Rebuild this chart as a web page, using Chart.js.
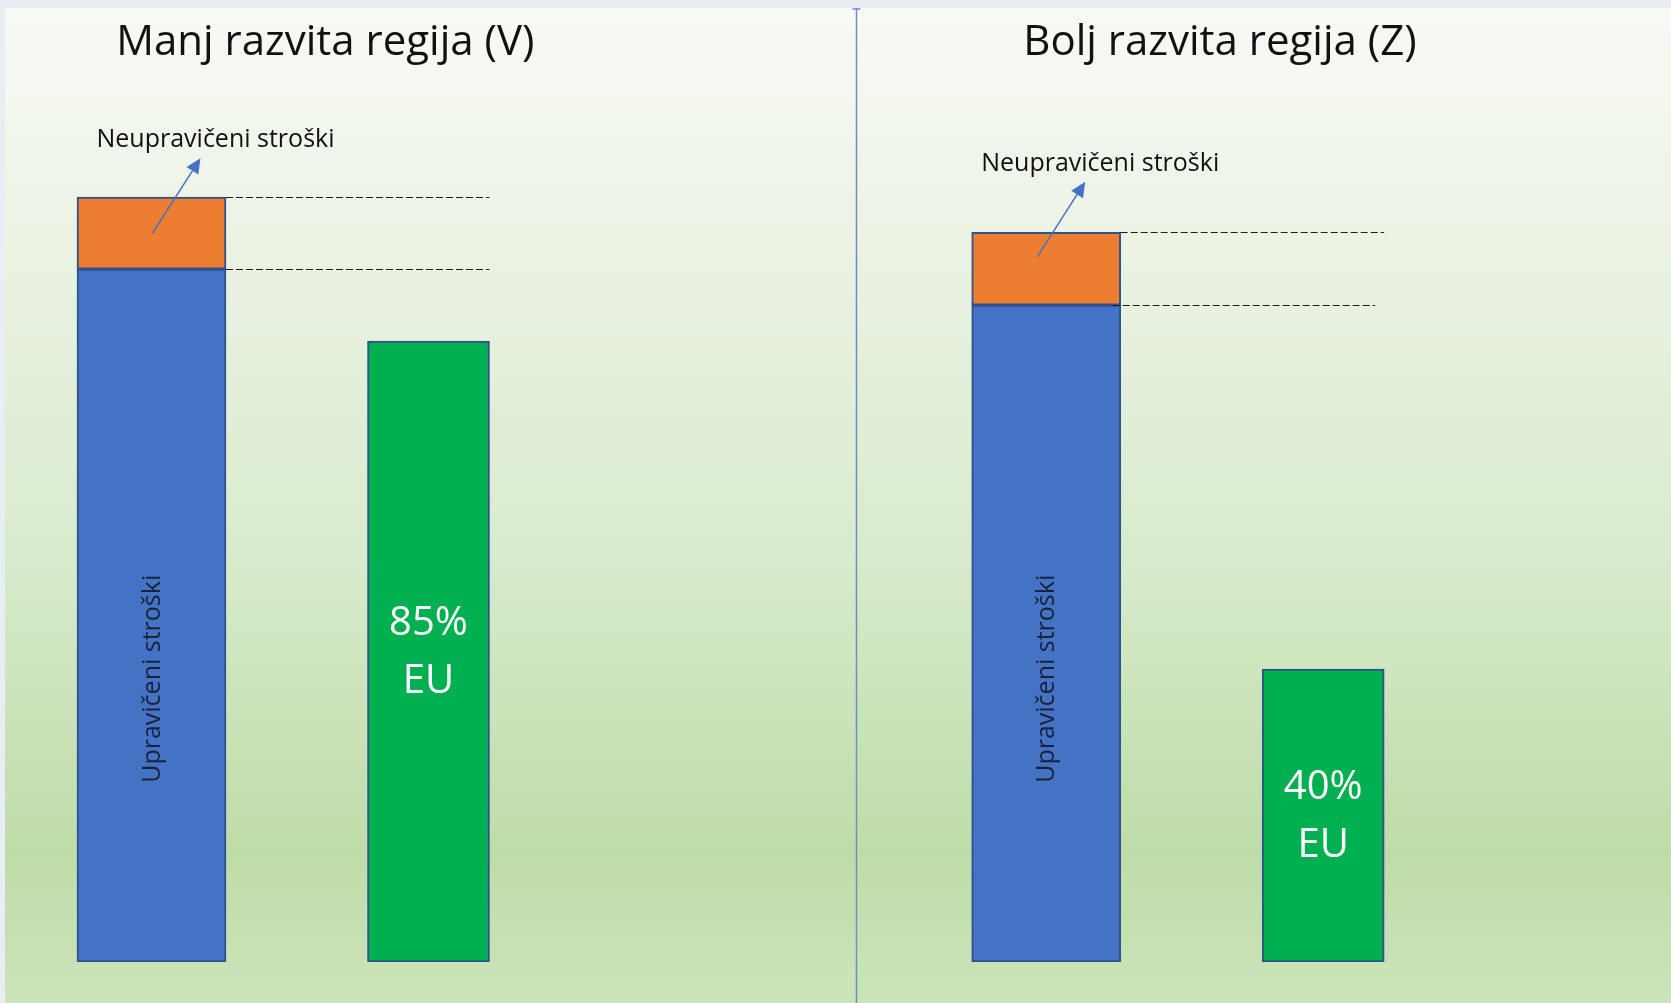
<!DOCTYPE html>
<html>
<head>
<meta charset="utf-8">
<script src="https://cdn.jsdelivr.net/npm/chart.js@4/dist/chart.umd.min.js"></script>
<style>
  html, body { margin: 0; padding: 0; background: #e9edf4; }
  #wrap { position: absolute; left: 0; top: 0; width: 1671px; height: 1003px; }
</style>
</head>
<body>
<div id="wrap"><canvas id="chart" width="1671" height="1003"></canvas></div>
<script>
// podatki
const regions = ['Manj razvita regija (V)', 'Bolj razvita regija (Z)'];
const eligibleCosts = [86.6, 82.1];   // Upravičeni stroški
const ineligibleCosts = [9.0, 9.1];   // Neupravičeni stroški
const euShare = [77.6, 36.6];         // delež EU
const euLabels = ['85%', '40%'];
const costSlot = [1, 4.23];
const euSlot = [2, 5.23];

const FONT = '"Open Sans", "DejaVu Sans", sans-serif';

// ozadje z gradientom
const backgroundPlugin = {
    id: 'background',
    beforeDraw(chart) {
        const ctx = chart.ctx;
        const w = chart.width, h = chart.height;
        ctx.save();
        ctx.fillStyle = '#e9edf4';
        ctx.fillRect(0, 0, w, h);
        const g = ctx.createLinearGradient(0, 8, 0, h);
        g.addColorStop(0, '#f8faf5');
        g.addColorStop(0.3, '#e8f1e0');
        g.addColorStop(0.55, '#d8ebcc');
        g.addColorStop(0.85, '#bedca8');
        g.addColorStop(1, '#cce4ba');
        ctx.fillStyle = g;
        ctx.fillRect(5, 8, w - 5, h - 8);
        ctx.restore();
    }
};

function drawArrow(ctx, x1, y1, x2, y2) {
    const ang = Math.atan2(y2 - y1, x2 - x1);
    const len = 15, half = 7;
    const bx = x2 - len * Math.cos(ang), by = y2 - len * Math.sin(ang);
    ctx.beginPath();
    ctx.moveTo(x1, y1);
    ctx.lineTo(bx, by);
    ctx.stroke();
    ctx.beginPath();
    ctx.moveTo(x2, y2);
    ctx.lineTo(bx + half * Math.sin(ang), by - half * Math.cos(ang));
    ctx.lineTo(bx - half * Math.sin(ang), by + half * Math.cos(ang));
    ctx.closePath();
    ctx.fill();
}

// črtkane črte, puščice, naslovi in oznake
const annotationPlugin = {
    id: 'annotations',
    afterDatasetsDraw(chart) {
        const ctx = chart.ctx;
        const blue = chart.getDatasetMeta(0).data;
        const orange = chart.getDatasetMeta(1).data;
        const green = chart.getDatasetMeta(2).data;
        const xs = chart.scales.x, ys = chart.scales.y;

        ctx.save();
        // ločnica
        const divX = Math.round(xs.getPixelForValue(3.543)) + 0.5;
        ctx.strokeStyle = '#6f8cc4';
        ctx.lineWidth = 1.5;
        ctx.beginPath();
        ctx.moveTo(divX, 8);
        ctx.lineTo(divX, chart.height);
        ctx.stroke();
        ctx.beginPath();
        ctx.moveTo(divX - 4, 9);
        ctx.lineTo(divX + 4, 9);
        ctx.stroke();

        regions.forEach((name, i) => {
            const b = blue[i], o = orange[i], gr = green[i];
            const right = b.x + b.width / 2;
            const gRight = gr.x + gr.width / 2;

            // črtkane črte
            ctx.strokeStyle = '#1e1e1e';
            ctx.lineWidth = 1;
            ctx.setLineDash([7, 3]);
            [o.y, b.y].forEach((y, k) => {
                const yy = Math.round(y) + 0.5;
                ctx.beginPath();
                ctx.moveTo(right - k * i * 8, yy);
                ctx.lineTo(gRight - k * i * 9, yy);
                ctx.stroke();
            });
            ctx.setLineDash([]);

            // puščica
            const sx = b.x + 1 - i * 10, sy = (o.y + b.y) / 2 - i * 12;
            const tx = sx + 48, ty = sy - 75;
            ctx.strokeStyle = '#4472c4';
            ctx.fillStyle = '#4472c4';
            ctx.lineWidth = 1.5;
            drawArrow(ctx, sx, sy, tx, ty);

            ctx.fillStyle = '#111111';
            ctx.textAlign = 'center';
            ctx.textBaseline = 'middle';
            ctx.font = '25px ' + FONT;
            ctx.fillText('Neupravičeni stroški', tx + 15, ty - 18);

            // naslov
            ctx.font = '42px ' + FONT;
            const left = b.x - b.width / 2;
            ctx.fillText(name, (left + gRight) / 2 + 42, 43);

            // navpični napis
            ctx.save();
            ctx.translate(b.x + 1, ys.getPixelForValue(35.4));
            ctx.rotate(-Math.PI / 2);
            ctx.fillStyle = '#1a2238';
            ctx.font = '25px ' + FONT;
            ctx.fillText('Upravičeni stroški', 0, 0);
            ctx.restore();

            // oznaka EU
            const mid = (gr.y + gr.base) / 2;
            ctx.fillStyle = '#ffffff';
            ctx.font = '40px ' + FONT;
            ctx.fillText(euLabels[i], gr.x, mid - 28);
            ctx.fillText('EU', gr.x, mid + 30);
        });
        ctx.restore();
    }
};

const toPoints = (xv, yv) => xv.map((x, i) => ({ x: x, y: yv[i] }));

new Chart(document.getElementById('chart'), {
    type: 'bar',
    data: {
        datasets: [
            {
                label: 'Upravičeni stroški',
                data: toPoints(costSlot, eligibleCosts),
                backgroundColor: '#4472c4',
                borderColor: '#2f528f',
                borderWidth: 2,
                borderSkipped: false,
                barThickness: 149,
                stack: 'costs'
            },
            {
                label: 'Neupravičeni stroški',
                data: toPoints(costSlot, ineligibleCosts),
                backgroundColor: '#ed7d31',
                borderColor: '#2f528f',
                borderWidth: 2,
                borderSkipped: false,
                barThickness: 149,
                stack: 'costs'
            },
            {
                label: 'EU',
                data: toPoints(euSlot, euShare),
                backgroundColor: '#00b050',
                borderColor: '#2f528f',
                borderWidth: 2,
                borderSkipped: false,
                barThickness: 122,
                stack: 'eu'
            }
        ]
    },
    options: {
        responsive: false,
        animation: false,
        grouped: false,
        layout: { padding: { top: 162, bottom: 41, left: 0, right: 0 } },
        plugins: {
            legend: { display: false },
            tooltip: { enabled: false },
            title: { display: false }
        },
        scales: {
            x: { type: 'linear', offset: false, min: 0.4531, max: 6.4856, display: false },
            y: { stacked: true, min: 0, max: 100, display: false }
        }
    },
    plugins: [backgroundPlugin, annotationPlugin]
});
</script>
</body>
</html>
